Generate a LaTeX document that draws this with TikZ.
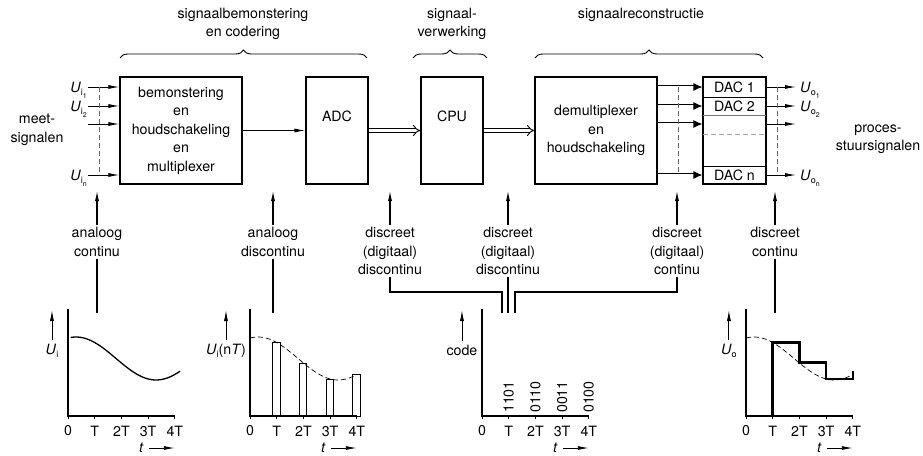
\documentclass[tikz,border=0pt]{standalone}
\usepackage{fontspec}
\setmainfont{TeX Gyre Heros}
\usetikzlibrary{arrows.meta,calc,decorations.pathreplacing,positioning}
\tikzset{
    >={Latex[length=11pt,width=4pt]},
    box/.style={draw,line width=1.2pt,minimum height=107pt,inner sep=0pt,align=center},
    bus/.style={double,double distance=3pt,line width=0.9pt},
    sig/.style={line width=0.9pt},
    lead/.style={line width=1.3pt},
    axis/.style={line width=1.2pt},
    lbl/.style={align=center,inner sep=2pt},
    brace/.style={decorate,decoration={brace,amplitude=8pt},line width=0.9pt},
    guide/.style={dash pattern=on 5pt off 3pt,line width=0.7pt,black!60},
}
\newcommand{\Usig}[2]{\textit{U}\raisebox{-0.5ex}{\fontsize{9}{9}\selectfont #1\raisebox{-0.5ex}{\fontsize{7}{7}\selectfont #2}}}

\begin{document}
\begin{tikzpicture}[x=1pt,y=-1pt,font=\fontsize{14.2}{18.5}\selectfont]
\useasboundingbox (0,0) rectangle (923,455);

% blokken
\node[box,minimum width=122pt] (sample) at (181,130.5) {bemonstering\\en\\houdschakeling\\en\\multiplexer};
\node[box,minimum width=62pt] (adc) at (337,130.5) {};
\node (adctxt) at ([yshift=-40pt]adc.north) {ADC};
\node[box,minimum width=62pt] (cpu) at (452,130.5) {};
\node (cputxt) at ([yshift=-40pt]cpu.north) {CPU};
\node[box,minimum width=122pt] (demux) at (596,130.5) {demultiplexer\\en\\houdschakeling};
\node[box,minimum width=63pt] (dac) at (734.5,130.5) {};
\draw[line width=1pt] (703,97) -- (766,97);
\draw[line width=1pt,black!55] (703,115) -- (766,115);
\draw[guide,black!35] (703,134) -- (766,134);
\draw[line width=1pt] (703,166) -- (766,166);
\node (dac1) at (734.5,87) {DAC 1};
\node (dac2) at (734.5,106) {DAC 2};
\node (dacn) at (734.5,175.5) {DAC n};

% signaallijnen
\foreach \n/\y in {1/87,2/106,3/124,4/175}{
    \coordinate (row\n) at (0,\y);
    \coordinate (in\n) at (88,\y);
    \coordinate (out\n) at (796,\y);
    \draw[sig,->] (in\n) -- (sample.west |- row\n);
    \draw[bus,-{Latex[length=9pt,width=8pt]}] (demux.east |- row\n) -- (dac.west |- row\n);
    \draw[sig,->] (dac.east |- row\n) -- (out\n);
}
\draw[guide] ([xshift=11pt]in1) -- ([xshift=11pt]in4);
\coordinate (dl) at (678,0);
\draw[guide] (row1 -| dl) -- (row4 -| dl);
\draw[guide] ([xshift=-19pt]out1) -- ([xshift=-19pt]out4);

\node[anchor=base east,inner sep=1pt] (ui1) at ([yshift=-5pt]in1) {\Usig{i}{1}};
\node[anchor=base east,inner sep=1pt] (ui2) at ([yshift=-5pt]in2) {\Usig{i}{2}};
\node[anchor=base east,inner sep=1pt] (uin) at ([yshift=-5pt]in4) {\Usig{i}{n}};
\node[anchor=base west,inner sep=1pt] (uo1) at ([xshift=3pt,yshift=-5pt]out1) {\Usig{o}{1}};
\node[anchor=base west,inner sep=1pt] (uo2) at ([xshift=3pt,yshift=-5pt]out2) {\Usig{o}{2}};
\node[anchor=base west,inner sep=1pt] (uon) at ([xshift=3pt,yshift=-5pt]out4) {\Usig{o}{n}};

\node[lbl] (meet) at (37,130) {meet-\\signalen};
\node[lbl] (proces) at (878,139) {proces-\\stuursignalen};

\draw[sig,->] (sample) -- (adc);
\draw[bus,-{Implies}] (adc) -- (cpu);
\draw[bus,-{Implies}] (cpu) -- (demux);

% fasen
\node[lbl] (fase1) at (243,24) {signaalbemonstering\\en codering};
\node[lbl] (fase2) at (452,24) {signaal-\\verwerking};
\node[lbl] (fase3) at (641,15) {signaalreconstructie};
\draw[brace] (120,58) -- (367,58);
\draw[brace] (413,58) -- (487,58);
\draw[brace] (535,58) -- (763,58);

% soorten signalen
\node[lbl] (ac) at (97,242) {analoog\\continu};
\node[lbl] (ad) at (273,242) {analoog\\discontinu};
\node[lbl] (dd1) at (390,251) {discreet\\(digitaal)\\discontinu};
\node[lbl] (dd2) at (508,251) {discreet\\(digitaal)\\discontinu};
\node[lbl] (dc1) at (677,251) {discreet\\(digitaal)\\continu};
\node[lbl] (dc2) at (775,242) {discreet\\continu};
\foreach \s/\x in {ac/97,ad/273,dd1/390,dd2/508,dc1/677,dc2/775}{
    \coordinate (tip\s) at (\x,190);
    \draw[lead,->] (\s) -- (tip\s);
}
\draw[lead] (ac) -- (97,313);
\draw[lead] (ad) -- (273,313);
\draw[lead] (dd2) -- (508,313);
\draw[lead] (dc2) -- (775,313);
\draw[lead] (dd1) |- (502,292) -- (502,313);
\draw[lead] (dc1) |- (515,292) -- (515,313);

% grafieken
\foreach \gx/\g in {68/a,250/b,482/c,746/d}{
    \begin{scope}[shift={(\gx,416)},x=26.7pt,y=1pt]
        \draw[axis] (0,107) -- (0,0) -- (4,0);
        \foreach \i/\l in {0/0,1/T,2/2T,3/3T,4/4T}{
            \draw[sig] (\i,0) -- (\i,-3);
            \node (tick\g\i) at (\i,-15) {\l};
        }
        \node[inner sep=1pt] (t\g) at (2.75,-32) {\textit{t}};
        \draw[sig,->] ([xshift=4pt]t\g.east) -- (4,-32);
    \end{scope}
}

\begin{scope}[shift={(68,416)},x=26.7pt,y=1pt]
    \draw[line width=1.3pt,smooth,domain=0.1:4.2,samples=50] plot (\x,{57.5+21.5*cos(60*(\x-0.3))});
    \node (ua) at (-0.6,64) {\Usig{i}{}};
    \draw[sig,->] (ua) -- (-0.6,106);
\end{scope}

\begin{scope}[shift={(250,416)},x=26.7pt,y=1pt]
    \draw[guide,black,smooth,domain=0:4,samples=50] plot (\x,{57.5+21.5*cos(60*(\x-0.3))});
    \foreach \n in {1,...,4}
        \draw[line width=0.7pt] (\n-0.15,0) rectangle (\n+0.12,{57.5+21.5*cos(60*(\n-0.3))});
    \node (ub) at (-0.9,64) {\Usig{i}{}(n\textit{T})};
    \draw[sig,->] (ub) -- (-0.9,106);
\end{scope}

\begin{scope}[shift={(482,416)},x=26.7pt,y=1pt]
    \foreach \n/\c in {1/1101,2/0110,3/0011,4/0100}
        \node[rotate=90] (code\n) at (\n,19) {\c};
    \node (uc) at (-0.75,66) {code};
    \draw[sig,->] (uc) -- (-0.75,106);
\end{scope}

\begin{scope}[shift={(746,416)},x=26.7pt,y=1pt]
    \draw[guide,black,smooth,domain=0:4,samples=50] plot (\x,{57.5+21.5*cos(60*(\x-0.3))});
    \draw[line width=2.6pt] (0,0) -- (1,0) -- (1,73.5) -- (2,73.5) -- (2,53.5) -- (3,53.5) -- (3,37) -- (4,37) -- (4,45);
    \node (ud) at (-0.64,64) {\Usig{o}{}};
    \draw[sig,->] (ud) -- (-0.64,106);
\end{scope}
\end{tikzpicture}
\end{document}
